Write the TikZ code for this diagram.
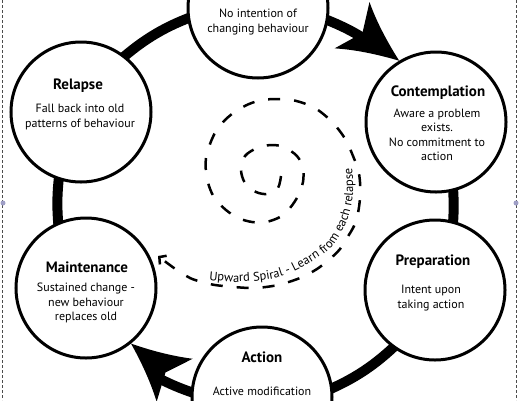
\documentclass[tikz,border=0pt]{standalone}
\usepackage{fontspec}
\setmainfont{PT Sans}
\usetikzlibrary{arrows.meta,decorations.text}
\pgfdeclarelayer{bg}
\pgfsetlayers{bg,main}
\begin{document}
\begin{tikzpicture}[x=1pt,y=1pt,
  stage/.style={circle, draw, line width=3pt, fill=white, minimum size=140pt, inner sep=0pt},
  ttl/.style={font=\fontsize{15}{17}\selectfont\bfseries, inner sep=0pt},
  body/.style={font=\fontsize{12}{14.5}\selectfont, align=center, inner sep=0pt},
  ring/.style={line width=10pt},
  headfill/.style={fill=black},
  spiral/.style={line width=2.5pt, dash pattern=on 12pt off 14pt},
  frameline/.style={gray!60!black, line width=1pt, dash pattern=on 3pt off 2pt},
  handle/.style={fill=blue!25!gray!60}
]
\useasboundingbox (0,0) rectangle (519,-400);
\clip (0,0) rectangle (519,-400);

\node[stage] (pre)  at (258,-8) {};
\node[stage] (con)  at (436,-122) {};
\node[stage] (prep) at (435,-290) {};
\node[stage] (act)  at (262,-397) {};
\node[stage] (main) at (86,-288) {};
\node[stage] (rel)  at (81,-112) {};

\begin{pgfonlayer}{bg}
% ring segments, clockwise from node to node
\draw[ring, shorten <=-8pt] (pre.-10.3) arc[start angle=68.7, end angle=57, radius=198];
\draw[ring, shorten <=-8pt, shorten >=-8pt] (con.-76.5) arc[start angle=4.2, end angle=-4.9, radius=198];
\draw[ring, shorten <=-8pt, shorten >=-8pt] (prep.-126.3) arc[start angle=-45.7, end angle=-67.3, radius=198];
\draw[ring, shorten <=-8pt] (act.176.6) arc[start angle=-108.5, end angle=-119, radius=198];
\draw[ring, shorten <=-8pt, shorten >=-8pt] (main.113.7) arc[start angle=185.5, end angle=172.3, radius=198];
\draw[ring, shorten <=-8pt, shorten >=-8pt] (rel.52.3) arc[start angle=131.5, end angle=109.5, radius=198];
% big swept arrowheads
\fill[headfill, shift={(con.121)}, rotate=-37]
  (0,0) .. controls (-24,9) and (-44,19) .. (-59,29) -- (-46,0) -- (-59,-29)
  .. controls (-44,-19) and (-24,-9) .. (0,0) -- cycle;
\fill[headfill, shift={(main.-51)}, rotate=140]
  (0,0) .. controls (-24,9) and (-43,19) .. (-57,28) -- (-45,0) -- (-57,-28)
  .. controls (-43,-19) and (-24,-9) .. (0,0) -- cycle;
\end{pgfonlayer}

\node[body] (preB) at (258,-22) {No intention of\\changing behaviour};
\node[ttl] (conT) at (438,-93) {Contemplation};
\node[body] (conB) at (437,-135) {Aware a problem\\exists.\\No commitment to\\action};
\node[ttl] (relT) at (78,-86) {Relapse};
\node[body] (relB) at (80,-117) {Fall back into old\\patterns of behaviour};
\node[ttl] (mainT) at (87,-267) {Maintenance};
\node[body] (mainB) at (86,-303) {Sustained change -\\new behaviour\\replaces old};
\node[ttl] (prepT) at (433,-262) {Preparation};
\node[body] (prepB) at (431,-298) {Intent upon\\taking action};
\node[ttl] (actT) at (262,-357) {Action};
\node[body] (actB) at (262,-391) {Active modification};

\draw[spiral, -{Straight Barb[length=5pt,width=11pt]}] plot[smooth] coordinates {
(281,-176) (278,-188) (268,-194) (256,-192) (245,-183) (241,-170) (245,-156) (257,-148)
(271,-145) (284,-147) (297,-156) (303,-168) (303,-182) (298,-196) (290,-208) (280,-217)
(266,-222) (252,-222) (238,-218) (226,-210) (215,-199) (209,-186) (206,-172) (206,-158)
(210,-144) (216,-131) (225,-120) (236,-111) (249,-104) (262,-100) (277,-99) (292,-100)
(306,-104) (318,-110) (329,-119) (339,-130) (347,-142) (353,-156) (358,-169) (360,-182)
(360,-198) (358,-213) (354,-226) (347,-238) (340,-249) (331,-258) (317,-269) (300,-278)
(278,-285) (255,-288) (234,-287) (215,-285) (202,-282) (190,-278) (174,-268) (158,-256)};

\path[decorate, decoration={text along path, text align=left,
  text={|\fontsize{12.5}{14}\selectfont|Upward Spiral - Learn from each relapse}}]
  plot[smooth] coordinates {(209,-280) (234,-282) (255,-281) (275,-278) (295,-271)
  (311,-262) (325,-253) (335,-243) (341,-233) (347,-221) (351,-207) (353,-194)
  (353,-180) (352,-166) (350,-151) (346,-137)};

\draw[frameline] (2,0) -- (2,-400);
\draw[frameline] (516,0) -- (516,-400);
\fill[handle] (3,-203) circle (2.5pt);
\fill[handle] (516,-203) circle (2.5pt);
\end{tikzpicture}
\end{document}
